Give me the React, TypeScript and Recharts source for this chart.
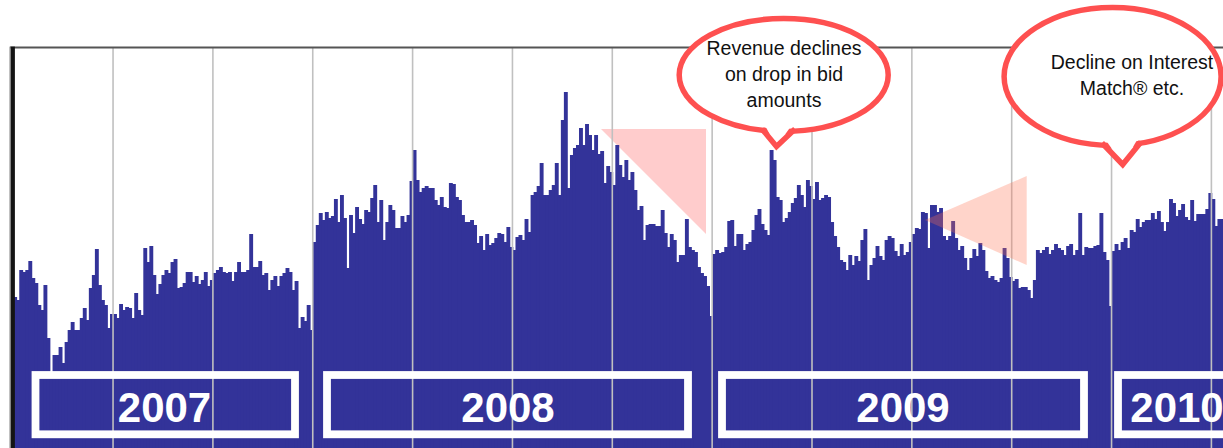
import React from 'react';
import { BarChart, Bar, XAxis, YAxis, ReferenceLine } from 'recharts';

// daily revenue index, one bar per business-day bucket (33 per quarter)
const years = ['2007', '2008', '2009', '2010'];

const rev2007 = [
  151, 148, 178, 176, 178, 187, 170, 165, 143, 138,
  163, 110, 74, 93, 93, 101, 85, 106, 118, 126,
  118, 118, 130, 140, 128, 160, 173, 199, 163, 148,
  143, 120, 134, 134, 130, 144, 138, 141, 140, 130,
  155, 138, 133, 200, 186, 202, 173, 154, 164, 173,
  178, 175, 186, 189, 160, 161, 165, 176, 176, 166,
  172, 164, 168, 176, 162, 168, 175, 178, 181, 176,
  175, 176, 167, 176, 186, 176, 176, 178, 214, 181,
  181, 187, 173, 175, 158, 168, 172, 162, 172, 175,
  180, 176, 158, 167, 120, 131, 127, 143, 118,
];

const rev2008 = [
  206, 223, 235, 228, 236, 230, 232, 249, 226, 253,
  230, 180, 233, 215, 241, 229, 224, 238, 236, 250,
  263, 226, 248, 208, 226, 243, 238, 220, 220, 232,
  226, 233, 267, 298, 268, 256, 260, 262, 260, 260,
  248, 243, 251, 241, 240, 265, 264, 251, 248, 233,
  226, 226, 228, 223, 205, 212, 198, 214, 203, 205,
  210, 215, 214, 206, 221, 201, 198, 211, 213, 208,
  229, 216, 253, 256, 262, 285, 253, 253, 258, 263,
  285, 253, 328, 356, 260, 293, 300, 303, 320, 303,
  324, 313, 298, 313, 294, 297, 265, 282, 276, 263,
  303, 283, 271, 288, 268, 276, 258, 238, 242, 208,
  223, 224, 224, 222, 222, 238, 215, 201, 214, 208,
  186, 193, 193, 229, 201, 198, 196, 181, 175, 172,
  162, 132,
];

const rev2009 = [
  194, 198, 195, 196, 201, 227, 228, 202, 214, 214,
  198, 204, 206, 218, 233, 239, 224, 218, 213, 298,
  288, 251, 248, 226, 230, 236, 245, 250, 263, 253,
  241, 268, 262, 249, 266, 248, 250, 253, 251, 226,
  212, 201, 188, 186, 178, 193, 183, 192, 187, 208,
  219, 168, 183, 190, 202, 192, 188, 208, 212, 210,
  197, 192, 204, 193, 196, 206, 214, 220, 219, 236,
  235, 200, 243, 243, 236, 240, 212, 208, 212, 227,
  210, 198, 202, 190, 178, 190, 199, 192, 205, 198,
  177, 170, 172, 168, 166, 170, 200, 190, 171, 167,
  169, 160, 161, 161, 158, 150, 168, 198, 195, 198,
  201, 194, 198, 204, 200, 198, 193, 202, 204, 193,
  198, 235, 193, 201, 200, 200, 202, 203, 235, 196,
  188, 142,
];

const rev2010 = [
  197, 204, 198, 206, 210, 200, 218, 216, 229, 221,
  226, 228, 228, 235, 229, 237, 226, 217, 226, 249,
  245, 232, 238, 244, 231, 228, 248, 227, 234, 234,
  234, 239, 255, 249, 222, 229, 229,
];

const daysPerQuarter = 33;

const data = [rev2007, rev2008, rev2009, rev2010]
  .flat()
  .map((revenue, idx) => ({ idx, revenue }));

const quarterLines = Array.from(
  { length: Math.floor(data.length / daysPerQuarter) },
  (_, k) => (k + 1) * daysPerQuarter
);

// year banner layout (pixels)
const yearBoxes = [
  { x: 35.5, w: 259.5, tx: 164.5 },
  { x: 327, w: 361, tx: 508 },
  { x: 722, w: 362, tx: 903 },
  { x: 1118, w: 200, tx: 1177 },
];

const RED = '#fe5050';
const BLUE = '#333399';

// bars are slightly widened so neighbouring bars touch without seams
const SolidBar = (props: any) => {
  const { x, y, width, height } = props;
  if (!height || height <= 0) return null;
  return <rect x={x} y={y} width={width + 0.9} height={height} fill={BLUE} />;
};

interface BubbleProps {
  cx: number;
  cy: number;
  rx: number;
  ry: number;
  tail: [number, number][];
  lines: string[];
  textX: number;
  top: number;
}

function Bubble({ cx, cy, rx, ry, tail, lines, textX, top }: BubbleProps) {
  const [l, t, r] = tail;
  return (
    <g>
      <ellipse cx={cx} cy={cy} rx={rx} ry={ry} fill="#fff" stroke={RED} strokeWidth={5.5} />
      <polygon
        points={`${l[0] + 1},${l[1] - 7} ${t[0]},${t[1]} ${r[0] - 1},${r[1] - 7}`}
        fill="#fff"
      />
      <polyline
        points={`${l[0]},${l[1]} ${t[0]},${t[1]} ${r[0]},${r[1]}`}
        fill="none"
        stroke={RED}
        strokeWidth={5.5}
      />
      <text
        fontFamily="'Liberation Sans', Arial, sans-serif"
        fontSize={19.5}
        fill="#111"
        textAnchor="middle"
      >
        {lines.map((s, i) => (
          <tspan key={i} x={textX} y={top + i * 25.8}>
            {s}
          </tspan>
        ))}
      </text>
    </g>
  );
}

export default function App() {
  return (
    <div
      style={{
        position: 'fixed',
        left: 0,
        top: 0,
        width: 1223,
        height: 448,
        overflow: 'hidden',
        background: '#fff',
      }}
    >
      {/* triangle behind the bars */}
      <svg width={1223} height={448} style={{ position: 'absolute', left: 0, top: 0 }}>
        <polygon points="601,129 706,129 706,234" fill="#ffcccc" />
      </svg>

      <div style={{ position: 'absolute', left: 0, top: 0 }}>
        <BarChart
          width={1224}
          height={448}
          data={data}
          margin={{ top: 48, right: 0.5, bottom: 0, left: 13.2 }}
          barCategoryGap={0}
          barGap={0}
        >
          <XAxis dataKey="idx" hide />
          <YAxis hide domain={[0, 400]} />
          <Bar
            dataKey="revenue"
            fill={BLUE}
            shape={SolidBar}
            isAnimationActive={false}
          />
          {quarterLines.map((q) => (
            <ReferenceLine
              key={q}
              x={q}
              position="start"
              stroke="#c0c0c0"
              strokeWidth={1.6}
              zIndex={600}
            />
          ))}
        </BarChart>
      </div>

      <svg
        width={1223}
        height={448}
        style={{ position: 'absolute', left: 0, top: 0, pointerEvents: 'none' }}
      >
        {/* frame */}
        <line x1={10} y1={47.6} x2={1223} y2={47.6} stroke="#555" strokeWidth={2} />
        <rect x={9.4} y={46.6} width={1.3} height={402} fill="#999" />
        <rect x={10.7} y={46.6} width={4.2} height={402} fill="#141414" />

        {/* second decline marker, translucent over the bars */}
        <polygon points="925,220 1026.7,176 1026.7,265" fill="#ff7050" fillOpacity={0.3} />

        {years.map((y, i) => {
          const b = yearBoxes[i];
          return (
            <g key={y}>
              <rect
                x={b.x}
                y={375}
                width={b.w}
                height={59.3}
                fill="none"
                stroke="#fff"
                strokeWidth={7.8}
              />
              <text
                x={b.tx}
                y={422}
                textAnchor="middle"
                fill="#fff"
                fontFamily="'Liberation Sans', Arial, sans-serif"
                fontWeight="bold"
                fontSize={42}
              >
                {y}
              </text>
            </g>
          );
        })}

        <Bubble
          cx={783.7}
          cy={75}
          rx={104.5}
          ry={56.5}
          tail={[
            [762, 129],
            [776.5, 146.5],
            [795, 129],
          ]}
          lines={['Revenue declines', 'on drop in bid', 'amounts']}
          textX={784}
          top={55}
        />
        <Bubble
          cx={1112.6}
          cy={76.5}
          rx={108.5}
          ry={69}
          tail={[
            [1102, 143],
            [1122.7, 164.5],
            [1141, 142],
          ]}
          lines={['Decline on Interest', 'Match® etc.']}
          textX={1132}
          top={69.3}
        />
      </svg>
    </div>
  );
}
